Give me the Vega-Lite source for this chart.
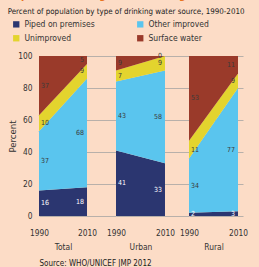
{
  "$schema": "https://vega.github.io/schema/vega-lite/v6.json",
  "background": "#fcdcc6",
  "padding": {"left": 7, "top": -10, "right": 15, "bottom": 1},
  "datasets": {
    "water": [
      {"region": "Total", "year": 1990, "cat": "Piped on premises", "order": 1, "value": 16},
      {"region": "Total", "year": 1990, "cat": "Other improved", "order": 2, "value": 37},
      {"region": "Total", "year": 1990, "cat": "Unimproved", "order": 3, "value": 10},
      {"region": "Total", "year": 1990, "cat": "Surface water", "order": 4, "value": 37},
      {"region": "Total", "year": 2010, "cat": "Piped on premises", "order": 1, "value": 18},
      {"region": "Total", "year": 2010, "cat": "Other improved", "order": 2, "value": 68},
      {"region": "Total", "year": 2010, "cat": "Unimproved", "order": 3, "value": 9},
      {"region": "Total", "year": 2010, "cat": "Surface water", "order": 4, "value": 5},
      {"region": "Urban", "year": 1990, "cat": "Piped on premises", "order": 1, "value": 41},
      {"region": "Urban", "year": 1990, "cat": "Other improved", "order": 2, "value": 43},
      {"region": "Urban", "year": 1990, "cat": "Unimproved", "order": 3, "value": 7},
      {"region": "Urban", "year": 1990, "cat": "Surface water", "order": 4, "value": 9},
      {"region": "Urban", "year": 2010, "cat": "Piped on premises", "order": 1, "value": 33},
      {"region": "Urban", "year": 2010, "cat": "Other improved", "order": 2, "value": 58},
      {"region": "Urban", "year": 2010, "cat": "Unimproved", "order": 3, "value": 9},
      {"region": "Urban", "year": 2010, "cat": "Surface water", "order": 4, "value": 0},
      {"region": "Rural", "year": 1990, "cat": "Piped on premises", "order": 1, "value": 2},
      {"region": "Rural", "year": 1990, "cat": "Other improved", "order": 2, "value": 34},
      {"region": "Rural", "year": 1990, "cat": "Unimproved", "order": 3, "value": 11},
      {"region": "Rural", "year": 1990, "cat": "Surface water", "order": 4, "value": 53},
      {"region": "Rural", "year": 2010, "cat": "Piped on premises", "order": 1, "value": 3},
      {"region": "Rural", "year": 2010, "cat": "Other improved", "order": 2, "value": 77},
      {"region": "Rural", "year": 2010, "cat": "Unimproved", "order": 3, "value": 9},
      {"region": "Rural", "year": 2010, "cat": "Surface water", "order": 4, "value": 11}
    ]
  },
  "title": {
    "text": "Improved drinking water coverage",
    "subtitle": "Percent of population by type of drinking water source, 1990-2010",
    "anchor": "start",
    "frame": "bounds",
    "font": "DejaVu Sans Condensed, sans-serif",
    "fontSize": 10.5,
    "fontWeight": "bold",
    "color": "#e8731e",
    "subtitleFont": "DejaVu Sans Condensed, sans-serif",
    "subtitleFontSize": 7.9,
    "subtitleColor": "#222222",
    "subtitlePadding": 7,
    "offset": 4
  },
  "vconcat": [
    {
      "hconcat": [
        {
          "width": 77,
          "height": 160,
          "data": {"name": "water"},
          "transform": [
            {"filter": "datum.region == 'Total'"},
            {"stack": "value", "groupby": ["year"], "sort": [{"field": "order", "order": "ascending"}], "as": ["v0", "v1"]},
            {"calculate": "(datum.v0 + datum.v1) / 2", "as": "mid"}
          ],
          "layer": [
            {
              "mark": {"type": "area"},
              "encoding": {
                "x": {"field": "year", "type": "quantitative", "scale": {"domain": [1990, 2022.08], "nice": false, "zero": false},
                  "axis": {"values": [1990, 2010], "format": "d", "labelFlush": false, "grid": false, "title": "Total", "titleX": 24}},
                "y": {"field": "v1", "type": "quantitative", "scale": {"domain": [0, 100], "nice": false},
                  "axis": {"values": [0, 20, 40, 60, 80, 100], "labelOverlap": false, "title": "Percent", "grid": true, "titleFontSize": 9.5, "titlePadding": 0, "labelPadding": 7}},
                "y2": {"field": "v0"},
                "color": {"field": "cat", "type": "nominal",
                  "scale": {"domain": ["Piped on premises", "Other improved", "Unimproved", "Surface water"], "range": ["#2b3670", "#5ac5ee", "#e3d42e", "#9a3a2a"]},
                  "legend": {"orient": "none", "legendX": -27, "legendY": -36, "columns": 2, "direction": "horizontal", "title": null}}
              }
            },
            {
              "transform": [{"filter": "datum.year == 1990"}],
              "mark": {"type": "text", "align": "left", "dx": 2, "fontSize": 7, "font": "DejaVu Sans Condensed, sans-serif"},
              "encoding": {
                "x": {"field": "year", "type": "quantitative",
                  "axis": {"values": [1990, 2010], "format": "d", "labelFlush": false, "grid": false, "title": "Total", "titleX": 24}},
                "y": {"field": "mid", "type": "quantitative",
                  "axis": {"values": [0, 20, 40, 60, 80, 100], "labelOverlap": false, "title": "Percent", "grid": true, "titleFontSize": 9.5, "titlePadding": 0, "labelPadding": 7}},
                "text": {"field": "value"},
                "color": {"condition": {"test": "datum.cat == 'Piped on premises'", "value": "#ffffff"}, "value": "#3a3a3a"}
              }
            },
            {
              "transform": [{"filter": "datum.year == 2010"}],
              "mark": {"type": "text", "align": "right", "dx": -3, "fontSize": 7, "font": "DejaVu Sans Condensed, sans-serif"},
              "encoding": {
                "x": {"field": "year", "type": "quantitative",
                  "axis": {"values": [1990, 2010], "format": "d", "labelFlush": false, "grid": false, "title": "Total", "titleX": 24}},
                "y": {"field": "mid", "type": "quantitative",
                  "axis": {"values": [0, 20, 40, 60, 80, 100], "labelOverlap": false, "title": "Percent", "grid": true, "titleFontSize": 9.5, "titlePadding": 0, "labelPadding": 7}},
                "text": {"field": "value"},
                "color": {"condition": {"test": "datum.cat == 'Piped on premises'", "value": "#ffffff"}, "value": "#3a3a3a"}
              }
            }
          ]
        },
        {
          "width": 73,
          "height": 160,
          "data": {"name": "water"},
          "transform": [
            {"filter": "datum.region == 'Urban'"},
            {"stack": "value", "groupby": ["year"], "sort": [{"field": "order", "order": "ascending"}], "as": ["v0", "v1"]},
            {"calculate": "(datum.v0 + datum.v1) / 2", "as": "mid"}
          ],
          "layer": [
            {
              "mark": {"type": "area"},
              "encoding": {
                "x": {"field": "year", "type": "quantitative", "scale": {"domain": [1990, 2019.8], "nice": false, "zero": false},
                  "axis": {"values": [1990, 2010], "format": "d", "labelFlush": false, "grid": false, "title": "Urban", "titleX": 24.5}},
                "y": {"field": "v1", "type": "quantitative", "scale": {"domain": [0, 100], "nice": false},
                  "axis": {"values": [0, 20, 40, 60, 80, 100], "title": null, "labels": false, "grid": true}},
                "y2": {"field": "v0"},
                "color": {"field": "cat", "type": "nominal",
                  "scale": {"domain": ["Piped on premises", "Other improved", "Unimproved", "Surface water"], "range": ["#2b3670", "#5ac5ee", "#e3d42e", "#9a3a2a"]},
                  "legend": null}
              }
            },
            {
              "transform": [{"filter": "datum.year == 1990"}],
              "mark": {"type": "text", "align": "left", "dx": 2, "fontSize": 7, "font": "DejaVu Sans Condensed, sans-serif"},
              "encoding": {
                "x": {"field": "year", "type": "quantitative",
                  "axis": {"values": [1990, 2010], "format": "d", "labelFlush": false, "grid": false, "title": "Urban", "titleX": 24.5}},
                "y": {"field": "mid", "type": "quantitative",
                  "axis": {"values": [0, 20, 40, 60, 80, 100], "title": null, "labels": false, "grid": true}},
                "text": {"field": "value"},
                "color": {"condition": {"test": "datum.cat == 'Piped on premises'", "value": "#ffffff"}, "value": "#3a3a3a"}
              }
            },
            {
              "transform": [{"filter": "datum.year == 2010"}],
              "mark": {"type": "text", "align": "right", "dx": -3, "fontSize": 7, "font": "DejaVu Sans Condensed, sans-serif"},
              "encoding": {
                "x": {"field": "year", "type": "quantitative",
                  "axis": {"values": [1990, 2010], "format": "d", "labelFlush": false, "grid": false, "title": "Urban", "titleX": 24.5}},
                "y": {"field": "mid", "type": "quantitative",
                  "axis": {"values": [0, 20, 40, 60, 80, 100], "title": null, "labels": false, "grid": true}},
                "text": {"field": "value"},
                "color": {"condition": {"test": "datum.cat == 'Piped on premises'", "value": "#ffffff"}, "value": "#3a3a3a"}
              }
            }
          ]
        },
        {
          "width": 54,
          "height": 160,
          "data": {"name": "water"},
          "transform": [
            {"filter": "datum.region == 'Rural'"},
            {"stack": "value", "groupby": ["year"], "sort": [{"field": "order", "order": "ascending"}], "as": ["v0", "v1"]},
            {"calculate": "(datum.v0 + datum.v1) / 2", "as": "mid"}
          ],
          "layer": [
            {
              "mark": {"type": "area"},
              "encoding": {
                "x": {"field": "year", "type": "quantitative", "scale": {"domain": [1990, 2012.04], "nice": false, "zero": false},
                  "axis": {"values": [1990, 2010], "format": "d", "labelFlush": false, "grid": false, "title": "Rural", "titleX": 24.5}},
                "y": {"field": "v1", "type": "quantitative", "scale": {"domain": [0, 100], "nice": false},
                  "axis": {"values": [0, 20, 40, 60, 80, 100], "title": null, "labels": false, "grid": true}},
                "y2": {"field": "v0"},
                "color": {"field": "cat", "type": "nominal",
                  "scale": {"domain": ["Piped on premises", "Other improved", "Unimproved", "Surface water"], "range": ["#2b3670", "#5ac5ee", "#e3d42e", "#9a3a2a"]},
                  "legend": null}
              }
            },
            {
              "transform": [{"filter": "datum.year == 1990"}],
              "mark": {"type": "text", "align": "left", "dx": 2, "fontSize": 7, "font": "DejaVu Sans Condensed, sans-serif"},
              "encoding": {
                "x": {"field": "year", "type": "quantitative",
                  "axis": {"values": [1990, 2010], "format": "d", "labelFlush": false, "grid": false, "title": "Rural", "titleX": 24.5}},
                "y": {"field": "mid", "type": "quantitative",
                  "axis": {"values": [0, 20, 40, 60, 80, 100], "title": null, "labels": false, "grid": true}},
                "text": {"field": "value"},
                "color": {"condition": {"test": "datum.cat == 'Piped on premises'", "value": "#ffffff"}, "value": "#3a3a3a"}
              }
            },
            {
              "transform": [{"filter": "datum.year == 2010"}],
              "mark": {"type": "text", "align": "right", "dx": -3, "fontSize": 7, "font": "DejaVu Sans Condensed, sans-serif"},
              "encoding": {
                "x": {"field": "year", "type": "quantitative",
                  "axis": {"values": [1990, 2010], "format": "d", "labelFlush": false, "grid": false, "title": "Rural", "titleX": 24.5}},
                "y": {"field": "mid", "type": "quantitative",
                  "axis": {"values": [0, 20, 40, 60, 80, 100], "title": null, "labels": false, "grid": true}},
                "text": {"field": "value"},
                "color": {"condition": {"test": "datum.cat == 'Piped on premises'", "value": "#ffffff"}, "value": "#3a3a3a"}
              }
            }
          ]
        }
      ],
      "spacing": 0,
      "bounds": "flush"
    },
    {
      "width": 1,
      "height": 8,
      "data": {"values": [{"source": "Source:  WHO/UNICEF JMP 2012"}]},
      "mark": {"type": "text", "align": "left", "baseline": "middle", "fontSize": 8, "color": "#222222", "font": "DejaVu Sans Condensed, sans-serif"},
      "encoding": {"text": {"field": "source"}}
    }
  ],
  "spacing": 9,
  "config": {
    "view": {"stroke": null},
    "axis": {
      "domain": false,
      "ticks": false,
      "tickSize": 0,
      "labelOverlap": false,
      "labelPadding": 12,
      "labelFont": "DejaVu Sans Condensed, sans-serif",
      "labelFontSize": 8.3,
      "labelColor": "#333333",
      "titleFont": "DejaVu Sans Condensed, sans-serif",
      "titleFontSize": 8.4,
      "titleFontWeight": "normal",
      "titleColor": "#333333",
      "titlePadding": 6,
      "gridColor": "#b8b0aa",
      "gridWidth": 1.2
    },
    "legend": {
      "symbolType": "square",
      "symbolSize": 40,
      "symbolStrokeWidth": 0,
      "labelFont": "DejaVu Sans Condensed, sans-serif",
      "labelFontSize": 8.5,
      "labelColor": "#333333",
      "columnPadding": 41,
      "rowPadding": 5
    }
  }
}
